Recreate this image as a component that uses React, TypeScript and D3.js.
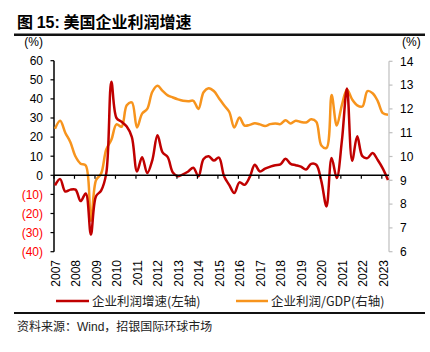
import React from 'react';
import * as d3 from 'd3';

const startYear = 2007;
const yearLabels = [2007, 2008, 2009, 2010, 2011, 2012, 2013, 2014, 2015, 2016, 2017, 2018, 2019, 2020, 2021, 2022, 2023];

// 企业利润增速 (左轴), quarterly 2007Q1–2023Q2
const profitGrowth = [
  -5.3, -2, -8.5, -7.5, -7.5, -13.5, -9.5, -31, -11, -8,
  1, 49, 30, 28, 25.5, 20, 2, 9.5, 1.2, 8,
  21, 12, 9.5, 1.5, -0.5, 0.5, 2, 4, -0.5, 8.5,
  10, 7.7, 9.3, -0.5, -5, -9.3, -3.7, -5, -1, 5.5,
  2, 3.5, 4.5, 5.3, 5.7, 8.7, 6, 5.3, 4.5, 3,
  6, 5.5, -3.2, -16.3, 9, -1.4, 18, 45.5, 7.6, 20.4,
  10, 9, 11.7, 8, 3.5, -2.5,
];

// 企业利润/GDP (右轴)
const profitToGDP = [
  11.17, 11.5, 11.0, 10.6, 10.0, 9.7, 9.62, 7.3, 9.0, 9.28,
  10.3, 10.7, 11.35, 11.25, 12.15, 12.27, 11.22, 11.8, 12.0, 12.72,
  12.97, 12.76, 12.57, 12.48, 12.4, 12.34, 12.32, 12.34, 12.0, 12.7,
  12.87, 12.75, 12.45, 12.15, 11.88, 11.22, 11.64, 11.3, 11.33, 11.4,
  11.35, 11.28, 11.36, 11.39, 11.36, 11.52, 11.39, 11.5, 11.45, 11.43,
  11.56, 11.46, 10.46, 10.36, 12.58, 11.3, 12.16, 12.82, 12.4, 12.15,
  12.1, 12.75, 12.66, 12.33, 11.82, 11.75,
];

const leftTicks = [60, 50, 40, 30, 20, 10, 0, -10, -20, -30, -40];
const rightTicks = [14, 13, 12, 11, 10, 9, 8, 7, 6];

const RED = '#C00000';
const ORANGE = '#F7941D';
const NUM_FONT = '"Liberation Sans", Arial, Helvetica, sans-serif';
const CJK_FONT = '"Noto Sans CJK SC", "Liberation Sans", sans-serif';

export default function App() {
  const W = 430;
  const H = 352;
  const x = d3.scaleLinear().domain([2007, 2023.35]).range([54, 389]);
  const t = (i: number) => startYear + i / 4 + 0.05;
  const yL = d3.scaleLinear().domain([-40, 60]).range([251.7, 60.7]);
  const yR = d3.scaleLinear().domain([6, 14]).range([251.7, 61.3]);

  const curve = d3.curveCatmullRom.alpha(0.5);
  const lineL = d3.line<number>().x((_, i) => x(t(i))).y((d) => yL(d)).curve(curve);
  const lineR = d3.line<number>().x((_, i) => x(t(i))).y((d) => yR(d)).curve(curve);

  const x0 = x.range()[0];
  const x1 = x.range()[1];
  const zeroY = yL(0);

  return (
    <svg
      width={W}
      height={H}
      style={{ position: 'absolute', left: 0, top: 0, background: '#fff' }}
      xmlns="http://www.w3.org/2000/svg"
    >
      <rect x={0} y={0} width={W} height={H} fill="#fff" />
      {/* title */}
      <text x={17} y={28} fontFamily={CJK_FONT} fontSize={16} fontWeight="bold" fill="#000">
        图 <tspan fontFamily={NUM_FONT}>15:</tspan> 美国企业利润增速
      </text>
      <line x1={14} x2={425} y1={34.7} y2={34.7} stroke="#111" strokeWidth={2.5} />

      {/* unit labels */}
      <text x={43} y={46} textAnchor="end" fontFamily={NUM_FONT} fontSize={12} fill="#000">(%)</text>
      <text x={402} y={46} fontFamily={NUM_FONT} fontSize={12} fill="#000">(%)</text>

      {/* left axis */}
      <line x1={x0} x2={x0} y1={yL(60)} y2={yL(-40)} stroke="#000" strokeWidth={1.5} />
      {leftTicks.map((v) => (
        <g key={'l' + v}>
          <line x1={x0 - 3.5} x2={x0} y1={yL(v)} y2={yL(v)} stroke="#000" strokeWidth={1.2} />
          <text
            x={43}
            y={yL(v)}
            dy="0.36em"
            textAnchor="end"
            fontFamily={NUM_FONT}
            fontSize={12}
            fill={v < 0 ? '#FF0000' : '#000'}
          >
            {v < 0 ? `(${-v})` : v}
          </text>
        </g>
      ))}

      {/* right axis */}
      <line x1={x1} x2={x1} y1={yR(14)} y2={yR(6)} stroke="#BFBFBF" strokeWidth={1.2} />
      {rightTicks.map((v) => (
        <g key={'r' + v}>
          <line x1={x1} x2={x1 + 3.5} y1={yR(v)} y2={yR(v)} stroke="#BFBFBF" strokeWidth={1.2} />
          <text x={400} y={yR(v)} dy="0.36em" fontFamily={NUM_FONT} fontSize={12} fill="#000">
            {v}
          </text>
        </g>
      ))}

      {/* series */}
      <path d={lineR(profitToGDP) || ''} fill="none" stroke={ORANGE} strokeWidth={2.5} strokeLinejoin="round" />
      <path d={lineL(profitGrowth) || ''} fill="none" stroke={RED} strokeWidth={2.5} strokeLinejoin="round" />

      {/* x axis (zero line) */}
      <line x1={x0} x2={x1} y1={zeroY} y2={zeroY} stroke="#000" strokeWidth={1.5} />
      {yearLabels.map((yr) => (
        <line key={'t' + yr} x1={x(yr)} x2={x(yr)} y1={zeroY} y2={zeroY + 3.5} stroke="#000" strokeWidth={1.2} />
      ))}
      {yearLabels.map((yr) => (
        <text
          key={'xl' + yr}
          transform={`translate(${x(yr) + 1.5},260) rotate(-90)`}
          dy="0.36em"
          textAnchor="end"
          fontFamily={NUM_FONT}
          fontSize={12}
          fill="#000"
        >
          {yr}
        </text>
      ))}

      {/* legend */}
      <line x1={56} x2={89} y1={301} y2={301} stroke={RED} strokeWidth={2.5} />
      <text x={92} y={305.5} fontFamily={CJK_FONT} fontSize={12.5} fill="#222">企业利润增速(左轴)</text>
      <line x1={236} x2={268} y1={301} y2={301} stroke={ORANGE} strokeWidth={2.5} />
      <text x={271} y={305.5} fontFamily={CJK_FONT} fontSize={12.5} fill="#222">企业利润/GDP(右轴)</text>

      {/* bottom rule and source */}
      <line x1={14} x2={425} y1={313} y2={313} stroke="#111" strokeWidth={2} />
      <text x={17} y={331} fontFamily={CJK_FONT} fontSize={12} fill="#222">
        资料来源：<tspan fontFamily={NUM_FONT}>Wind</tspan>，招银国际环球市场
      </text>
    </svg>
  );
}
